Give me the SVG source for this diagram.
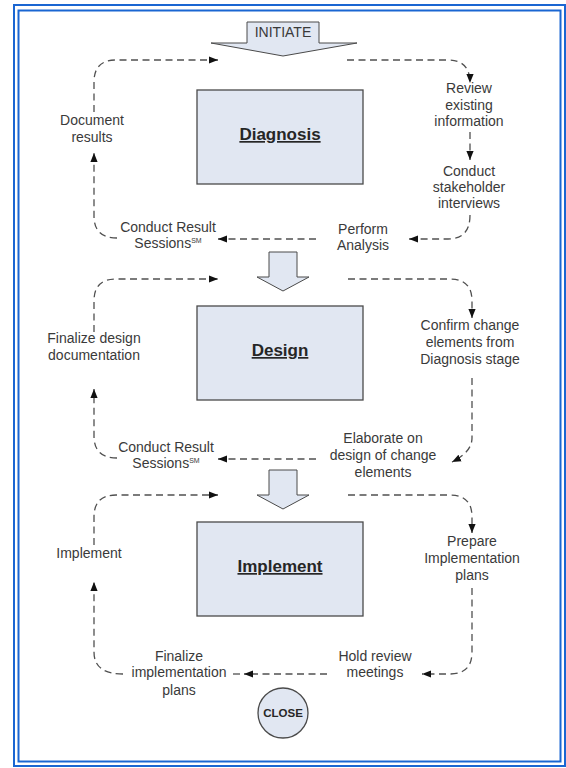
<svg xmlns="http://www.w3.org/2000/svg" width="566" height="768" viewBox="0 0 566 768">
<style>
.t{font-family:"Liberation Sans",Arial,sans-serif;font-size:14px;fill:#3a3a3a;text-anchor:middle}
.h{font-family:"Liberation Sans",Arial,sans-serif;font-size:17px;font-weight:bold;fill:#262626;text-anchor:middle;text-decoration:underline}
.c{font-family:"Liberation Sans",Arial,sans-serif;font-size:11.5px;font-weight:bold;fill:#262626;text-anchor:middle}
.sm{font-size:7px}
.box{fill:#e1e7f2;stroke:#4a4a4a;stroke-width:1.3}
.arw{fill:#e1e7f2;stroke:#4a4a4a;stroke-width:1}
.d{fill:none;stroke:#505050;stroke-width:1.3;stroke-dasharray:7 4.5}
.da{fill:none;stroke:#505050;stroke-width:1.3;stroke-dasharray:7 4.5;marker-end:url(#ah)}
.frame{fill:none;stroke:#1a66d2;stroke-width:2}
</style>
<defs>
<marker id="ah" viewBox="0 0 10 10" refX="10" refY="5" markerWidth="9" markerHeight="9" markerUnits="userSpaceOnUse" orient="auto">
<path d="M0,1 L10,5 L0,9 Z" fill="#111"/>
</marker>
</defs>
<rect width="566" height="768" fill="#ffffff"/>
<rect class="frame" x="14" y="5" width="551" height="761"/>
<rect class="frame" x="18.5" y="10.5" width="542" height="751"/>

<g id="initiate">
<path class="arw" d="M247,22 H319 V43 H357 L283,56 L211,43 H247 Z"/>
<text class="t" x="283" y="37" font-size="13">INITIATE</text>
</g>

<g id="diagnosis">
<rect class="box" x="197" y="90" width="166" height="94"/>
<text class="h" x="280" y="140">Diagnosis</text>
</g>
<g id="arrow1"><path class="arw" d="M269,252 H297 V277 H309 L283,291 L257,277 H269 Z"/></g>
<g id="design">
<rect class="box" x="197" y="306" width="166" height="94"/>
<text class="h" x="280" y="356">Design</text>
</g>
<g id="arrow2"><path class="arw" d="M269,470 H297 V495 H309 L283,509 L257,495 H269 Z"/></g>
<g id="implement">
<rect class="box" x="197" y="522" width="166" height="94"/>
<text class="h" x="280" y="572">Implement</text>
</g>
<g id="close">
<circle cx="283" cy="713" r="25" fill="#e1e7f2" stroke="#4a4a4a" stroke-width="1.3"/>
<text class="c" x="283" y="717">CLOSE</text>
</g>

<g id="labels-diagnosis">
<g id="document-results"><text class="t" x="92" y="125">Document</text><text class="t" x="92" y="142">results</text></g>
<g id="review"><text class="t" x="469" y="93">Review</text><text class="t" x="469" y="110">existing</text><text class="t" x="469" y="126">information</text></g>
<g id="interviews"><text class="t" x="469" y="176">Conduct</text><text class="t" x="469" y="192">stakeholder</text><text class="t" x="469" y="208">interviews</text></g>
<g id="perform"><text class="t" x="363" y="234">Perform</text><text class="t" x="363" y="250">Analysis</text></g>
<g id="sessions1"><text class="t" x="168" y="232">Conduct Result</text><text class="t" x="168" y="248">Sessions<tspan class="sm" dy="-5">SM</tspan></text></g>
</g>

<g id="labels-design">
<g id="finalize-design"><text class="t" x="94" y="343">Finalize design</text><text class="t" x="94" y="360">documentation</text></g>
<g id="confirm"><text class="t" x="470" y="330">Confirm change</text><text class="t" x="470" y="347">elements from</text><text class="t" x="470" y="364">Diagnosis stage</text></g>
<g id="elaborate"><text class="t" x="383" y="443">Elaborate on</text><text class="t" x="383" y="460">design of change</text><text class="t" x="383" y="477">elements</text></g>
<g id="sessions2"><text class="t" x="166" y="452">Conduct Result</text><text class="t" x="166" y="468">Sessions<tspan class="sm" dy="-5">SM</tspan></text></g>
</g>

<g id="labels-implement">
<g id="implement-label"><text class="t" x="89" y="558">Implement</text></g>
<g id="prepare"><text class="t" x="472" y="546">Prepare</text><text class="t" x="472" y="563">Implementation</text><text class="t" x="472" y="580">plans</text></g>
<g id="hold"><text class="t" x="375" y="661">Hold review</text><text class="t" x="375" y="677">meetings</text></g>
<g id="finalize-impl"><text class="t" x="179" y="661">Finalize</text><text class="t" x="179" y="677">implementation</text><text class="t" x="179" y="695">plans</text></g>
</g>

<g id="connectors">
<path class="da" d="M94,112 V82 Q94,60 116,60 H218"/>
<path class="da" d="M117,238 Q94,238 94,216 V153"/>
<path class="da" d="M347,60 H448 Q470,60 470,83"/>
<path class="da" d="M470,132 V160"/>
<path class="da" d="M470,215 Q470,239 448,239 H409"/>
<path class="da" d="M316,239 H218"/>

<path class="da" d="M94,332 V301 Q94,279 116,279 H218"/>
<path class="da" d="M117,458 Q94,458 94,436 V389"/>
<path class="da" d="M348,279 H450 Q472,279 472,301 V318"/>
<path class="da" d="M472,378 V438 Q472,452 452,462"/>
<path class="da" d="M316,459 H218"/>

<path class="da" d="M94,545 V517 Q94,495 116,495 H218"/>
<path class="da" d="M123,674 Q94,674 94,652 V582"/>
<path class="da" d="M348,495 H450 Q472,495 472,517 V533"/>
<path class="da" d="M472,588 V652 Q472,674 450,674 H422"/>
<path class="da" d="M327,674 H244"/>
<path class="d" d="M240,674 H232"/>
</g>
</svg>
